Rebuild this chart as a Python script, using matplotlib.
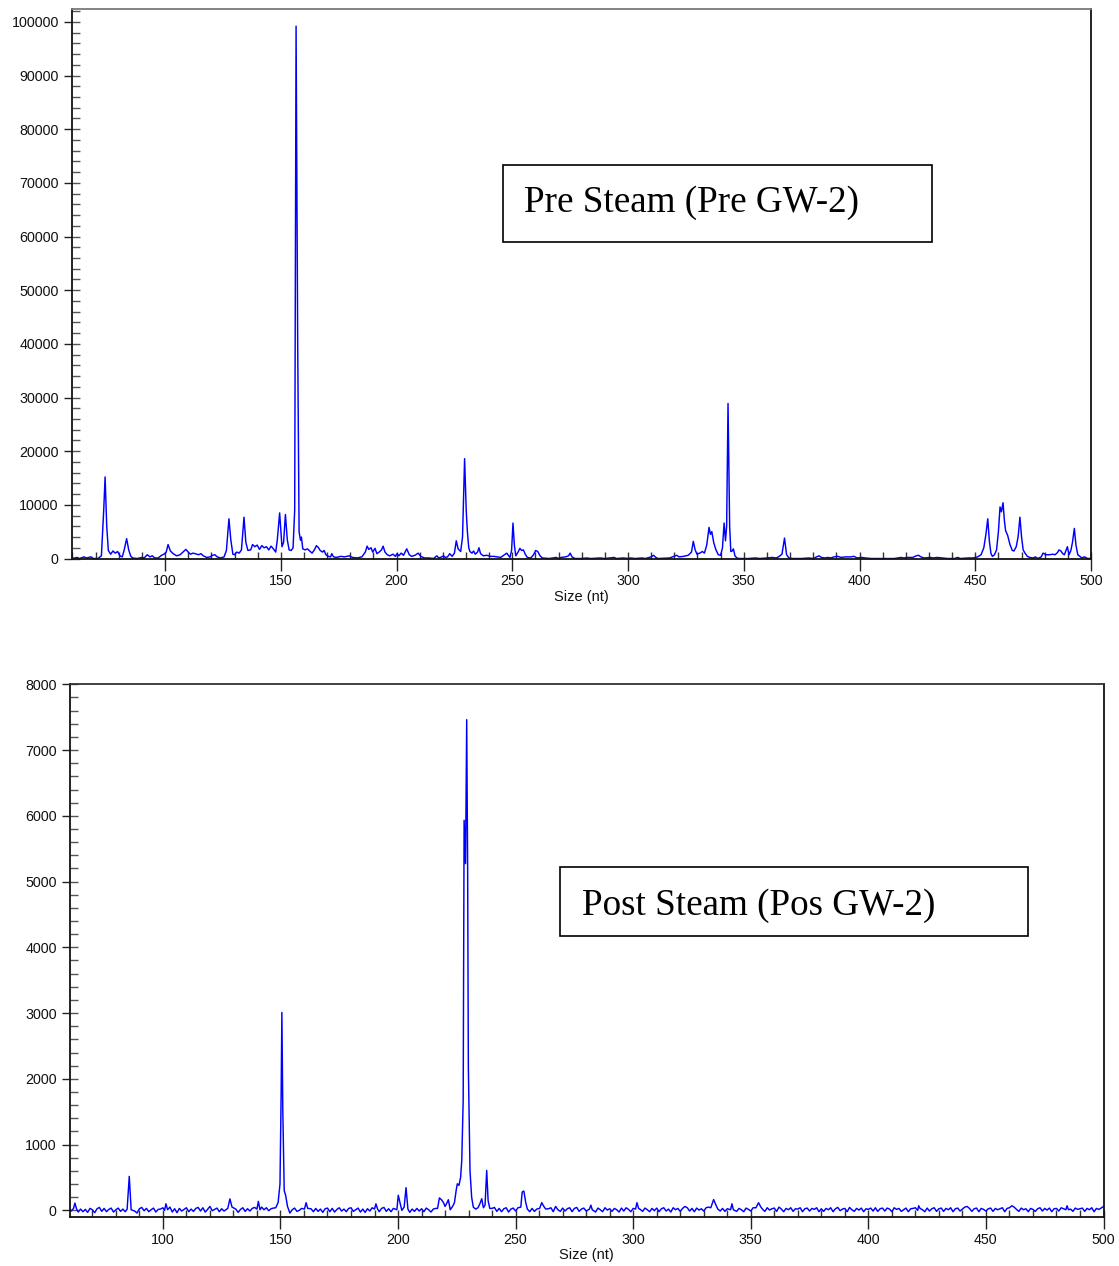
import numpy as np
import matplotlib
matplotlib.use("Agg")
import matplotlib.pyplot as plt
from matplotlib.ticker import MultipleLocator, FormatStrFormatter
from matplotlib.patches import Rectangle

# ---------------- data: Pre Steam trace (size nt, signal) ----------------
pre_size = [60, 62, 63, 65, 66, 68, 69, 71, 72.5, 73.5, 74.1, 74.8, 75.5, 76.5, 77.5, 78.5, 79.5, 80.5, 81.5, 82.3,
            83.4, 84.3, 85.2, 86, 88, 90, 91, 92.3, 93.5, 94.5, 95.5, 97, 98.5, 99.5, 100.5, 101.3, 102.3, 103.5, 105, 106.5,
            108, 109, 110, 111, 112, 113, 114.5, 115.5, 116.5, 118, 119.5, 120.5, 121.5, 122.5, 124, 125.5, 126.5, 127.6, 128.4, 129.3,
            130, 131, 132, 133, 134.1, 134.9, 135.8, 137, 137.8, 138.8, 139.8, 140.8, 141.8, 142.8, 143.8, 144.8, 145.8, 146.8, 147.8, 148.5,
            149.5, 150.5, 151.2, 152, 152.8, 153.6, 154.5, 155.3, 156, 156.6, 157.3, 157.9, 158.5, 158.9, 159.5, 160.5, 161.5, 162.5, 163.5, 164.5,
            165.4, 166.3, 167, 168, 168.7, 169.5, 170.5, 171.5, 172, 172.8, 174, 176, 177.5, 179.5, 181, 183, 185, 186.5, 187.3, 188,
            189, 189.7, 190.7, 191.5, 192.5, 193.5, 194.2, 195, 196, 197, 198.5, 199.5, 200.2, 201, 202, 203, 204.4, 205.5, 206.5, 208,
            209.3, 210.5, 212, 214, 216, 217.4, 218.2, 219.5, 220.3, 221, 222, 223, 224, 225, 225.8, 226.6, 227.7, 228.5, 229.4, 230.1,
            230.6, 231.2, 231.7, 232.6, 233.3, 234, 235, 235.6, 236.3, 237.5, 239, 240.5, 242, 243.5, 245, 247.6, 249, 249.7, 250.3, 250.9,
            251.5, 252.5, 253.3, 254, 254.8, 255.6, 256.5, 258, 259.2, 260.1, 261, 262, 263, 266, 269, 270, 271, 273, 274.3, 275,
            275.8, 277, 280, 282, 284, 288, 290, 294, 295, 298, 300, 301, 303, 306, 307.5, 310, 311, 312, 313, 318,
            321, 322, 324, 326, 327.4, 328.2, 329, 329.8, 331, 332.1, 333, 334, 335, 335.6, 336.2, 337, 337.9, 339, 340, 340.8,
            341.5, 342.1, 342.6, 343.2, 343.9, 344.4, 345, 345.5, 346.2, 347, 348, 352, 355, 357, 360, 362.3, 364, 365, 366.5, 367.6,
            368.5, 369.5, 371, 375, 378, 380, 381.5, 382.5, 383.5, 385, 386.5, 387.5, 389, 390.5, 392, 394, 396, 397.6, 399, 401,
            402.5, 405, 415, 418, 419, 421, 423, 424.5, 425.5, 426.5, 428, 430.5, 432, 433.5, 436, 438, 441, 442.5, 443.5, 447,
            449, 451, 452.5, 453.7, 454.6, 455.4, 456.1, 456.8, 457.4, 458.3, 459.2, 460, 460.7, 461.3, 462, 462.6, 463.1, 464, 465, 466,
            466.7, 467.7, 468.5, 469.3, 470, 470.7, 471.5, 472.5, 473.5, 475, 476, 477, 478.5, 479.3, 480.5, 482, 483.5, 484.5, 485.5, 486.2,
            487, 487.8, 488.5, 489.2, 489.8, 490.5, 491.3, 492, 492.8, 493.5, 494.3, 495.2, 496, 497, 497.7, 498.5, 500]
pre_signal = [0, 200, 0, 300, 100, 300, 0, 0, 500, 9000, 15200, 6000, 1500, 800, 1400, 1000, 1300, 500, 300, 1500,
              3700, 1600, 400, 100, 0, 200, 100, 700, 300, 500, 100, 100, 600, 800, 1200, 2600, 1400, 900, 500, 700,
              1300, 1700, 1200, 800, 1000, 900, 700, 900, 500, 200, 300, 600, 700, 300, 100, 300, 1500, 7400, 3500, 800,
              700, 1200, 1000, 1600, 7700, 3000, 1500, 1600, 2600, 2200, 2500, 1700, 2400, 2000, 2200, 1600, 2300, 1800, 1200, 3500,
              8500, 2200, 3000, 8200, 3500, 1600, 1500, 2000, 9000, 99200, 40000, 5000, 3400, 4000, 1800, 1600, 1800, 1400, 1000, 1600,
              2400, 2000, 1500, 1200, 1500, 700, 400, 300, 900, 300, 200, 400, 300, 500, 200, 100, 300, 1200, 2300, 1700,
              2000, 1200, 1900, 900, 1200, 1600, 2300, 1200, 700, 500, 800, 400, 900, 500, 1000, 600, 1800, 700, 400, 600,
              1000, 400, 100, 100, 0, 500, 100, 300, 500, 200, 300, 900, 400, 1000, 3300, 1800, 1300, 4000, 18600, 9000,
              5000, 2000, 1300, 1000, 1400, 800, 1200, 2000, 900, 500, 600, 400, 400, 300, 200, 1000, 200, 1500, 6600, 2500,
              500, 1200, 1900, 1500, 1600, 800, 200, 100, 700, 1500, 1300, 500, 100, 0, 200, 0, 200, 300, 500, 1000,
              300, 0, 0, 100, 0, 100, 0, 200, 0, 100, 0, 100, 0, 100, 0, 300, 600, 200, 0, 100,
              600, 300, 400, 600, 1200, 3200, 1600, 800, 1000, 1300, 1000, 2500, 5800, 4500, 5000, 3000, 1700, 700, 600, 2000,
              6600, 3300, 6000, 28900, 6000, 1300, 1400, 1800, 500, 100, 0, 0, 100, 0, 100, 200, 100, 300, 800, 3800,
              700, 100, 0, 0, 100, 0, 300, 500, 200, 100, 200, 100, 300, 400, 200, 300, 300, 400, 100, 200,
              100, 0, 0, 200, 100, 200, 200, 500, 600, 300, 100, 200, 100, 200, 100, 0, 0, 200, 0, 100,
              100, 300, 700, 2000, 4500, 7400, 3200, 900, 400, 700, 1600, 5000, 9600, 8700, 10400, 7000, 5200, 4300, 2600, 1500,
              1400, 2200, 4000, 7700, 4000, 1600, 1000, 400, 200, 100, 300, 0, 300, 1000, 700, 700, 800, 700, 1100, 1600,
              1400, 900, 700, 1500, 2200, 700, 1500, 3000, 5600, 2500, 700, 400, 100, 300, 200, 0, 0]

# ---------------- data: Post Steam trace ----------------
post_base_start = 60
post_base_signal = [
    40, -10, 30, 5, -25, 20, -20, 15, -30, 30,
    10, -35, 25, 45, -15, 30, -20, 15, 35, -25,
    10, 35, -15, 20, -20, 30, 5, 50, -10, -40,
    25, 45, -5, 30, -20, 10, 35, -25, 15, 20,
    40, -5, 30, 50, -25, 25, -35, 30, -10, 15,
    40, -20, 20, -15, 30, 45, -10, 40, -25, 15,
    60, -5, 15, 35, -20, 25, -10, 40, 60, 5,
    -20, 20, -30, 15, 40, -15, 25, -10, 30, 45,
    60, -10, 50, 10, 40, -5, 25, 35, -15, 70,
    40, 60, 30, -20, -40, 10, 35, -15, 0, 30,
    50, 80, -10, 25, -20, 30, -15, 20, -30, 25,
    35, -20, 30, -25, 15, 40, -10, 20, -20, 30,
    40, -15, 10, 35, -25, 20, -30, 25, -10, 40,
    60, 10, -20, 30, 45, -15, 25, -20, 30, 40,
    100, 80, 30, 100, 40, -30, 20, -15, 30, -10,
    25, -20, 35, 10, -25, 20, 30, 60, 120, 80,
    70, 100, 30, 80, 120, 300, 400, 700, 3000, 6000,
    500, 150, 40, -10, 60, 120, 60, 300, 100, -20,
    30, 45, -15, 30, -20, 25, 40, -25, 20, 35,
    -10, 40, 60, 200, 150, 10, -20, 30, -15, 20,
    40, 80, 50, -10, 25, 40, -20, 60, 10, -15,
    35, -10, 25, 40, -20, 30, 45, -15, 20, 35,
    -10, 30, 60, 15, -25, 35, 10, -20, 40, 5,
    25, -15, 30, 10, -25, 35, -10, 40, 15, -20,
    30, 60, 80, 15, -15, 35, 10, -20, 30, -5,
    35, -20, 25, 40, -10, 20, -25, 40, 10, 30,
    -15, 30, 60, 40, -10, 30, -20, 35, 5, 25,
    -10, 40, 50, 80, 120, 90, 40, -10, 30, -15,
    25, 60, 90, 40, -15, 30, 10, -20, 35, 15,
    -10, 40, 60, 100, 70, 30, -15, 40, 5, 25,
    35, -15, 50, 20, -20, 30, 10, 40, -15, 25,
    20, 40, -20, 25, 35, -10, 30, 15, 40, -20,
    25, -15, 30, 10, 40, -20, 25, 45, -5, 20,
    30, -20, 45, 10, -15, 30, 5, 35, -20, 25,
    15, 35, -10, 40, -15, 25, 35, -10, 35, 20,
    -20, 40, 15, 30, -15, 10, 35, -20, 25, 30,
    40, 60, 50, 10, -20, 35, -10, 25, 40, -15,
    25, 35, -15, 30, 10, 40, -20, 25, 35, -10,
    20, 50, 60, 30, -15, 25, 35, -20, 30, 15,
    -10, 25, 35, -15, 30, 10, 25, 40, -20, 30,
    40, 70, 50, 15, -15, 35, 10, 25, -20, 30,
    15, -15, 25, 40, -10, 30, 5, 35, -20, 25,
    30, -10, 40, 25, 50, 60, 20, -15, 35, 15,
    25, 35, -15, 30, 10, 40, -20, 30, 15, 35,
    60]
post_peak_size = [62.0, 62.6, 63.3,
                  84.8, 85.7, 86.5,
                  100.7, 101.3, 102,
                  127.6, 128.5, 129.4,
                  140, 140.6, 141.3,
                  148, 149, 149.8, 150.3, 150.6, 151, 151.6, 152.2, 153,
                  160.2, 160.9, 161.6,
                  190, 190.6, 191.3,
                  199.5, 200.1, 200.8, 201.6, 202.6, 203.4, 204.2,
                  216.8, 217.6, 218.5, 219.3, 220, 220.6, 221.4, 222.2,
                  223.2, 224, 224.7, 225.2, 225.9, 226.6, 227.1, 227.7, 228.1, 228.4, 228.7, 229.2, 229.6, 229.9,
                  230.6, 231.3, 232, 233, 234, 234.8, 235.6, 236.3, 237, 237.7, 238.3, 239,
                  252.2, 252.8, 253.5, 254.3, 255,
                  260.2, 261.1, 262, 262.8,
                  281.4, 282, 282.6,
                  301, 301.6, 302.3,
                  333, 334.2, 335.2, 336,
                  341.4, 342, 342.6,
                  352.2, 353.3, 354.3, 355.2,
                  421, 421.4, 422,
                  484, 484.5, 485.1]
post_peak_signal = [30, 111, 20,
                    20, 517, 10,
                    0, 100, 10,
                    30, 175, 50,
                    20, 137, 10,
                    40, 120, 400, 1800, 3011, 1500, 300, 228, 60,
                    20, 117, 30,
                    20, 100, 20,
                    10, 230, 120, 0, 50, 345, 20,
                    30, 190, 160, 120, 60, 100, 162, 10,
                    60, 120, 300, 405, 380, 500, 760, 1673, 5932, 5600, 5273, 7462, 5200, 2180,
                    608, 200, 50, 20, 40, 100, 177, 40, 80, 608, 150, 30,
                    50, 280, 294, 120, 20,
                    30, 117, 60, 20,
                    20, 80, 10,
                    20, 117, 30,
                    40, 165, 80, 20,
                    10, 100, 10,
                    40, 117, 50, 10,
                    0, 70, 30,
                    10, 70, 10]

pre_label = "Pre Steam (Pre GW-2)"
post_label = "Post Steam (Pos GW-2)"
x_label = "Size (nt)"

# ---------------- figure ----------------
W, H = 1119, 1266
fig = plt.figure(figsize=(W / 100, H / 100), dpi=100)

tick_font = dict(family="Liberation Sans", size=10.3)
trace_color = "#0000FF"


def px_rect(x0, y0, x1, y1):
    return [x0 / W, 1 - y1 / H, (x1 - x0) / W, (y1 - y0) / H]


def style_axes(ax, ymajor, yminor, topcolor):
    ax.xaxis.set_major_locator(MultipleLocator(50))
    ax.xaxis.set_minor_locator(MultipleLocator(10))
    ax.yaxis.set_major_locator(MultipleLocator(ymajor))
    ax.yaxis.set_minor_locator(MultipleLocator(yminor))
    ax.xaxis.remove_overlapping_locs = False
    ax.yaxis.remove_overlapping_locs = False
    ax.yaxis.set_major_formatter(FormatStrFormatter("%d"))
    ax.tick_params(axis="x", which="major", direction="out", length=8.5, width=1.0,
                   color="#222222", pad=3, labelsize=tick_font["size"], labelcolor="#111111")
    ax.tick_params(axis="x", which="minor", direction="in", length=5.2, width=1.0, color="#333333")
    ax.tick_params(axis="y", which="major", direction="out", length=5.5, width=1.0,
                   color="#222222", pad=4, labelsize=tick_font["size"], labelcolor="#111111")
    ax.tick_params(axis="y", which="minor", direction="in", length=5.5, width=1.0, color="#555555")
    for lab in ax.get_xticklabels() + ax.get_yticklabels():
        lab.set_family(tick_font["family"])
    for s in ["left", "bottom", "right"]:
        ax.spines[s].set_color("#111111")
        ax.spines[s].set_linewidth(1.3)
    ax.spines["top"].set_color(topcolor)
    ax.spines["top"].set_linewidth(1.3)
    ax.set_xlabel(x_label, family="Liberation Sans", fontsize=10.5, labelpad=1, color="#111111")


# Top panel
ax1 = fig.add_axes(px_rect(72, 9, 1091, 558.5))
ax1.plot(pre_size, pre_signal, color=trace_color, lw=1.05, clip_on=False)
ax1.set_xlim(59.8, 500)
ax1.set_ylim(0, 102400)
style_axes(ax1, 10000, 2000, "#7a7a7a")

# Bottom panel
ax2 = fig.add_axes(px_rect(70, 684.3, 1103.5, 1216.7))
base_x = np.arange(post_base_start, post_base_start + len(post_base_signal))
base_y = np.array(post_base_signal, dtype=float)
pk_x = np.array(post_peak_size)
pk_y = np.array(post_peak_signal, dtype=float)
keep = np.array([np.min(np.abs(pk_x - bx)) > 0.6 for bx in base_x])
all_x = np.concatenate([base_x[keep], pk_x])
all_y = np.concatenate([base_y[keep], pk_y])
order = np.argsort(all_x)
ax2.plot(all_x[order], all_y[order], color=trace_color, lw=1.05)
ax2.set_xlim(60.5, 500)
ax2.set_ylim(-96, 8000)
style_axes(ax2, 1000, 200, "#333333")

# Annotation boxes (figure pixel coords)
for (x0, y0, x1, y1, tx, tb, label) in [(503, 165, 932, 242, 524, 212, pre_label),
                                         (560, 867, 1028, 936, 582, 915, post_label)]:
    fig.add_artist(Rectangle((x0 / W, 1 - y1 / H), (x1 - x0) / W, (y1 - y0) / H,
                             transform=fig.transFigure, fill=False, edgecolor="black", lw=1.2))
    fig.text(tx / W, 1 - tb / H, label, family="Liberation Serif", fontsize=26.7,
             ha="left", va="baseline", color="black")

fig.savefig("out.png", dpi=100)
